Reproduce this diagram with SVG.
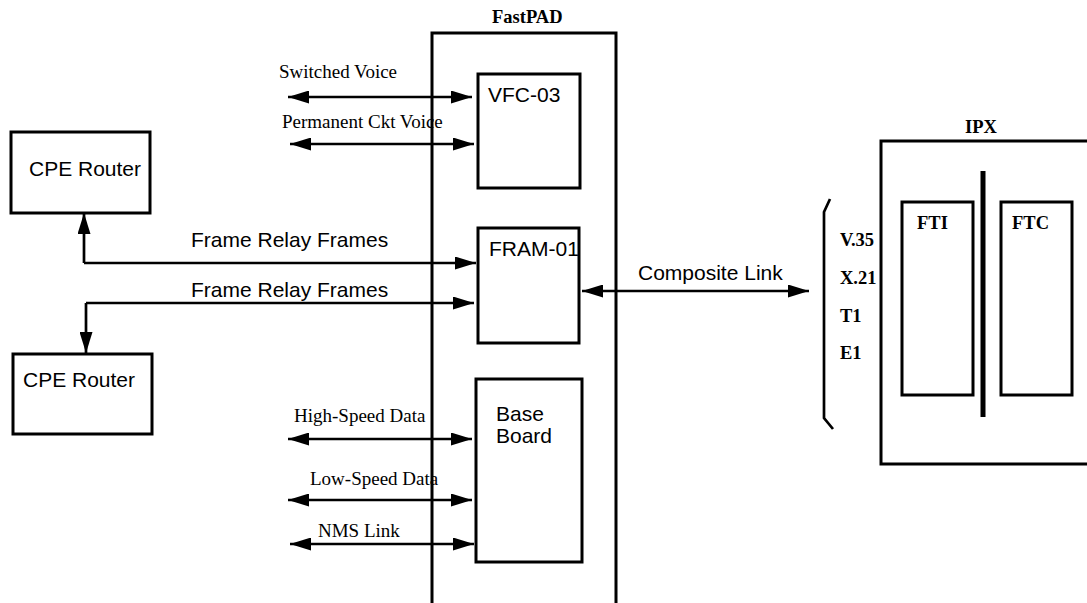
<svg xmlns="http://www.w3.org/2000/svg" width="1087" height="603" viewBox="0 0 1087 603">
<style>
.box{fill:#fff;stroke:#000;stroke-width:3}
.ln{fill:none;stroke:#000;stroke-width:2.7}
.h{font-family:"Liberation Sans",Arial,sans-serif;font-size:21px;fill:#000}
.s{font-family:"Liberation Serif","Times New Roman",serif;font-size:19px;fill:#000}
.b{font-family:"Liberation Serif","Times New Roman",serif;font-size:18.5px;font-weight:bold;fill:#000}
</style>
<defs>
<marker id="ah" markerUnits="userSpaceOnUse" markerWidth="21" markerHeight="13" refX="21" refY="6.5" orient="auto-start-reverse" viewBox="0 0 21 13">
<path d="M0,0 L21,6.5 L0,13 z" fill="#000"/>
</marker>
</defs>
<rect width="1087" height="603" fill="#fff"/>

<g id="fastpad">
<path class="box" style="fill:none" d="M432,603 V33 H616 V603"/>
<text class="b" x="492" y="23">FastPAD</text>
</g>
<g id="vfc03">
<rect class="box" x="478" y="74" width="102" height="114"/>
<text class="h" x="488" y="102">VFC-03</text>
</g>
<g id="fram01">
<rect class="box" x="478" y="228" width="101" height="115"/>
<text class="h" x="489" y="256">FRAM-01</text>
</g>
<g id="baseboard">
<rect class="box" x="476" y="379" width="106" height="183"/>
<text class="h" x="496" y="421">Base</text>
<text class="h" x="496" y="443">Board</text>
</g>
<g id="cpe1">
<rect class="box" x="11" y="132" width="139" height="81"/>
<text class="h" x="29" y="176">CPE Router</text>
</g>
<g id="cpe2">
<rect class="box" x="13" y="354" width="139" height="80"/>
<text class="h" x="23" y="387">CPE Router</text>
</g>
<g id="ipx">
<path class="box" style="fill:none" d="M1087,141 H881 V464 H1087"/>
<text class="b" x="965" y="133">IPX</text>
<line x1="983" y1="171" x2="983" y2="417" stroke="#000" stroke-width="5"/>
</g>
<g id="fti">
<rect class="box" x="902" y="202" width="71" height="193"/>
<text class="b" x="917" y="229">FTI</text>
</g>
<g id="ftc">
<rect class="box" x="1001" y="202" width="71" height="193"/>
<text class="b" x="1012" y="229">FTC</text>
</g>
<g id="interfaces">
<path class="ln" d="M830,199 L824,212 V418 L833,429"/>
<text class="b" x="840" y="246">V.35</text>
<text class="b" x="840" y="284">X.21</text>
<text class="b" x="840" y="322">T1</text>
<text class="b" x="840" y="359">E1</text>
</g>

<g id="connectors">
<line class="ln" x1="288" y1="97" x2="472" y2="97" marker-start="url(#ah)" marker-end="url(#ah)"/>
<line class="ln" x1="290" y1="144" x2="474" y2="144" marker-start="url(#ah)" marker-end="url(#ah)"/>
<path class="ln" d="M84,263 H476" marker-end="url(#ah)"/>
<path class="ln" d="M84,263 V213" marker-end="url(#ah)"/>
<path class="ln" d="M86,303 H474" marker-end="url(#ah)"/>
<path class="ln" d="M86,303 V353" marker-end="url(#ah)"/>
<line class="ln" x1="582" y1="291" x2="809" y2="291" marker-start="url(#ah)" marker-end="url(#ah)"/>
<line class="ln" x1="288" y1="439" x2="472" y2="439" marker-start="url(#ah)" marker-end="url(#ah)"/>
<line class="ln" x1="288" y1="500" x2="472" y2="500" marker-start="url(#ah)" marker-end="url(#ah)"/>
<line class="ln" x1="290" y1="544" x2="474" y2="544" marker-start="url(#ah)" marker-end="url(#ah)"/>
<text class="s" x="279" y="78">Switched Voice</text>
<text class="s" x="282" y="128">Permanent Ckt Voice</text>
<text class="h" x="191" y="247">Frame Relay Frames</text>
<text class="h" x="191" y="297">Frame Relay Frames</text>
<text class="h" x="638" y="280">Composite Link</text>
<text class="s" x="294" y="422">High-Speed Data</text>
<text class="s" x="310" y="485">Low-Speed Data</text>
<text class="s" x="318" y="537">NMS Link</text>
</g>
</svg>
